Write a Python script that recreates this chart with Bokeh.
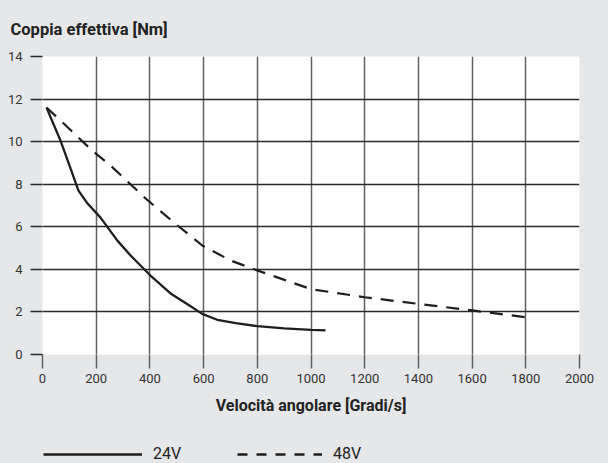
from bokeh.plotting import figure
from bokeh.layouts import column
from bokeh.models import Legend, LegendItem, FixedTicker, Range1d
from bokeh.embed import file_html
from bokeh.resources import INLINE

# Data
x24 = [15, 40, 67, 100, 134, 168, 216, 279, 328, 402, 477, 540, 595, 651, 720, 800, 900, 1000, 1054]
y24 = [11.6, 10.85, 10.05, 8.9, 7.7, 7.09, 6.43, 5.35, 4.65, 3.71, 2.87, 2.36, 1.91, 1.63, 1.47, 1.33, 1.23, 1.16, 1.13]
x48 = [15, 80, 185, 253, 353, 384, 480, 595, 700, 800, 1000, 1200, 1400, 1600, 1800]
y48 = [11.6, 10.84, 9.58, 8.88, 7.70, 7.33, 6.3, 5.12, 4.42, 3.95, 3.07, 2.69, 2.38, 2.07, 1.75]
x_ticks = [0, 200, 400, 600, 800, 1000, 1200, 1400, 1600, 1800, 2000]
y_ticks = [0, 2, 4, 6, 8, 10, 12, 14]
labels = ["24V", "48V"]
title_text = "Coppia effettiva [Nm]"
x_label = "Velocità angolare [Gradi/s]"

BG = "#e6e7e9"
FONT = "Roboto"
INK = "#1e1e1e"

p = figure(width=608, height=430, output_backend="svg", toolbar_location=None,
           x_range=Range1d(0, 2000), y_range=Range1d(0, 14),
           min_border_left=42, min_border_right=29, min_border_top=56, min_border_bottom=76)
p.background_fill_color = "white"
p.border_fill_color = BG
p.outline_line_color = None

p.title.text = title_text
p.title.align = "left"
p.title.vertical_align = "top"
p.title.offset = -32
p.title.standoff = 32
p.title.text_font = FONT
p.title.text_font_size = "16.5px"
p.title.text_font_style = "bold"
p.title.text_color = "#222222"

# grids
p.xgrid.ticker = FixedTicker(ticks=x_ticks)
p.ygrid.ticker = FixedTicker(ticks=y_ticks)
p.xgrid.grid_line_color = "#606060"
p.xgrid.grid_line_width = 1.5
p.ygrid.grid_line_color = "#2a2a2a"
p.ygrid.grid_line_width = 1.5

# axes
p.xaxis.ticker = FixedTicker(ticks=x_ticks)
p.yaxis.ticker = FixedTicker(ticks=y_ticks)
for ax in (p.xaxis[0], p.yaxis[0]):
    ax.axis_line_color = None
    ax.major_tick_in = 0
    ax.minor_tick_line_color = None
    ax.major_label_text_font = FONT
    ax.major_label_text_font_size = "13px"
    ax.major_label_text_color = "#333333"
p.xaxis.major_tick_out = 14
p.xaxis.major_tick_line_color = "#606060"
p.xaxis.major_tick_line_width = 1.5
p.xaxis.major_label_standoff = 5
p.yaxis.major_tick_out = 12
p.yaxis.major_tick_line_color = "#2a2a2a"
p.yaxis.major_tick_line_width = 1.5
p.yaxis.major_label_standoff = 8
p.xaxis.axis_label = x_label
p.xaxis.axis_label_text_font = FONT
p.xaxis.axis_label_text_font_size = "16px"
p.xaxis.axis_label_text_font_style = "bold"
p.xaxis.axis_label_text_color = "#222222"
p.xaxis.axis_label_standoff = 10

p.line(x24, y24, line_color=INK, line_width=2.3)
p.line(x48, y48, line_color=INK, line_width=2.2, line_dash="13 9")

# legend strip as its own small figure (its lines lie outside its tiny view)
lf = figure(width=608, height=33, output_backend="svg", toolbar_location=None,
            x_range=Range1d(0, 1), y_range=Range1d(0, 1),
            min_border_left=0, min_border_right=0, min_border_top=0, min_border_bottom=0)
lf.axis.visible = False
lf.grid.visible = False
lf.outline_line_color = None
lf.background_fill_color = BG
lf.border_fill_color = BG
r24l = lf.line(x24, y24, line_color=INK, line_width=2.6)
r48l = lf.line(x48, y48, line_color=INK, line_width=2.6, line_dash="10 9")

def mk_legend(item_label, renderer, gw, loc):
    lg = Legend(items=[LegendItem(label=item_label, renderers=[renderer])],
                location=loc, orientation="horizontal",
                glyph_width=gw, glyph_height=6, label_height=6,
                label_standoff=11, padding=0, margin=0, spacing=0,
                border_line_color=None, background_fill_alpha=0)
    lg.label_text_font = FONT
    lg.label_text_font_size = "16px"
    lg.label_text_color = "#222222"
    lg.label_text_baseline = "alphabetic"
    return lg

lf.add_layout(mk_legend(labels[0], r24l, 99, (1, 0)), "center")
lf.add_layout(mk_legend(labels[1], r48l, 85, (195, 0)), "center")

layout = column(p, lf, spacing=0)

html = file_html(layout, INLINE).replace("<head>", "<head><style>html,body{background:%s;}</style>" % BG, 1)
open("out.html", "w").write(html)
